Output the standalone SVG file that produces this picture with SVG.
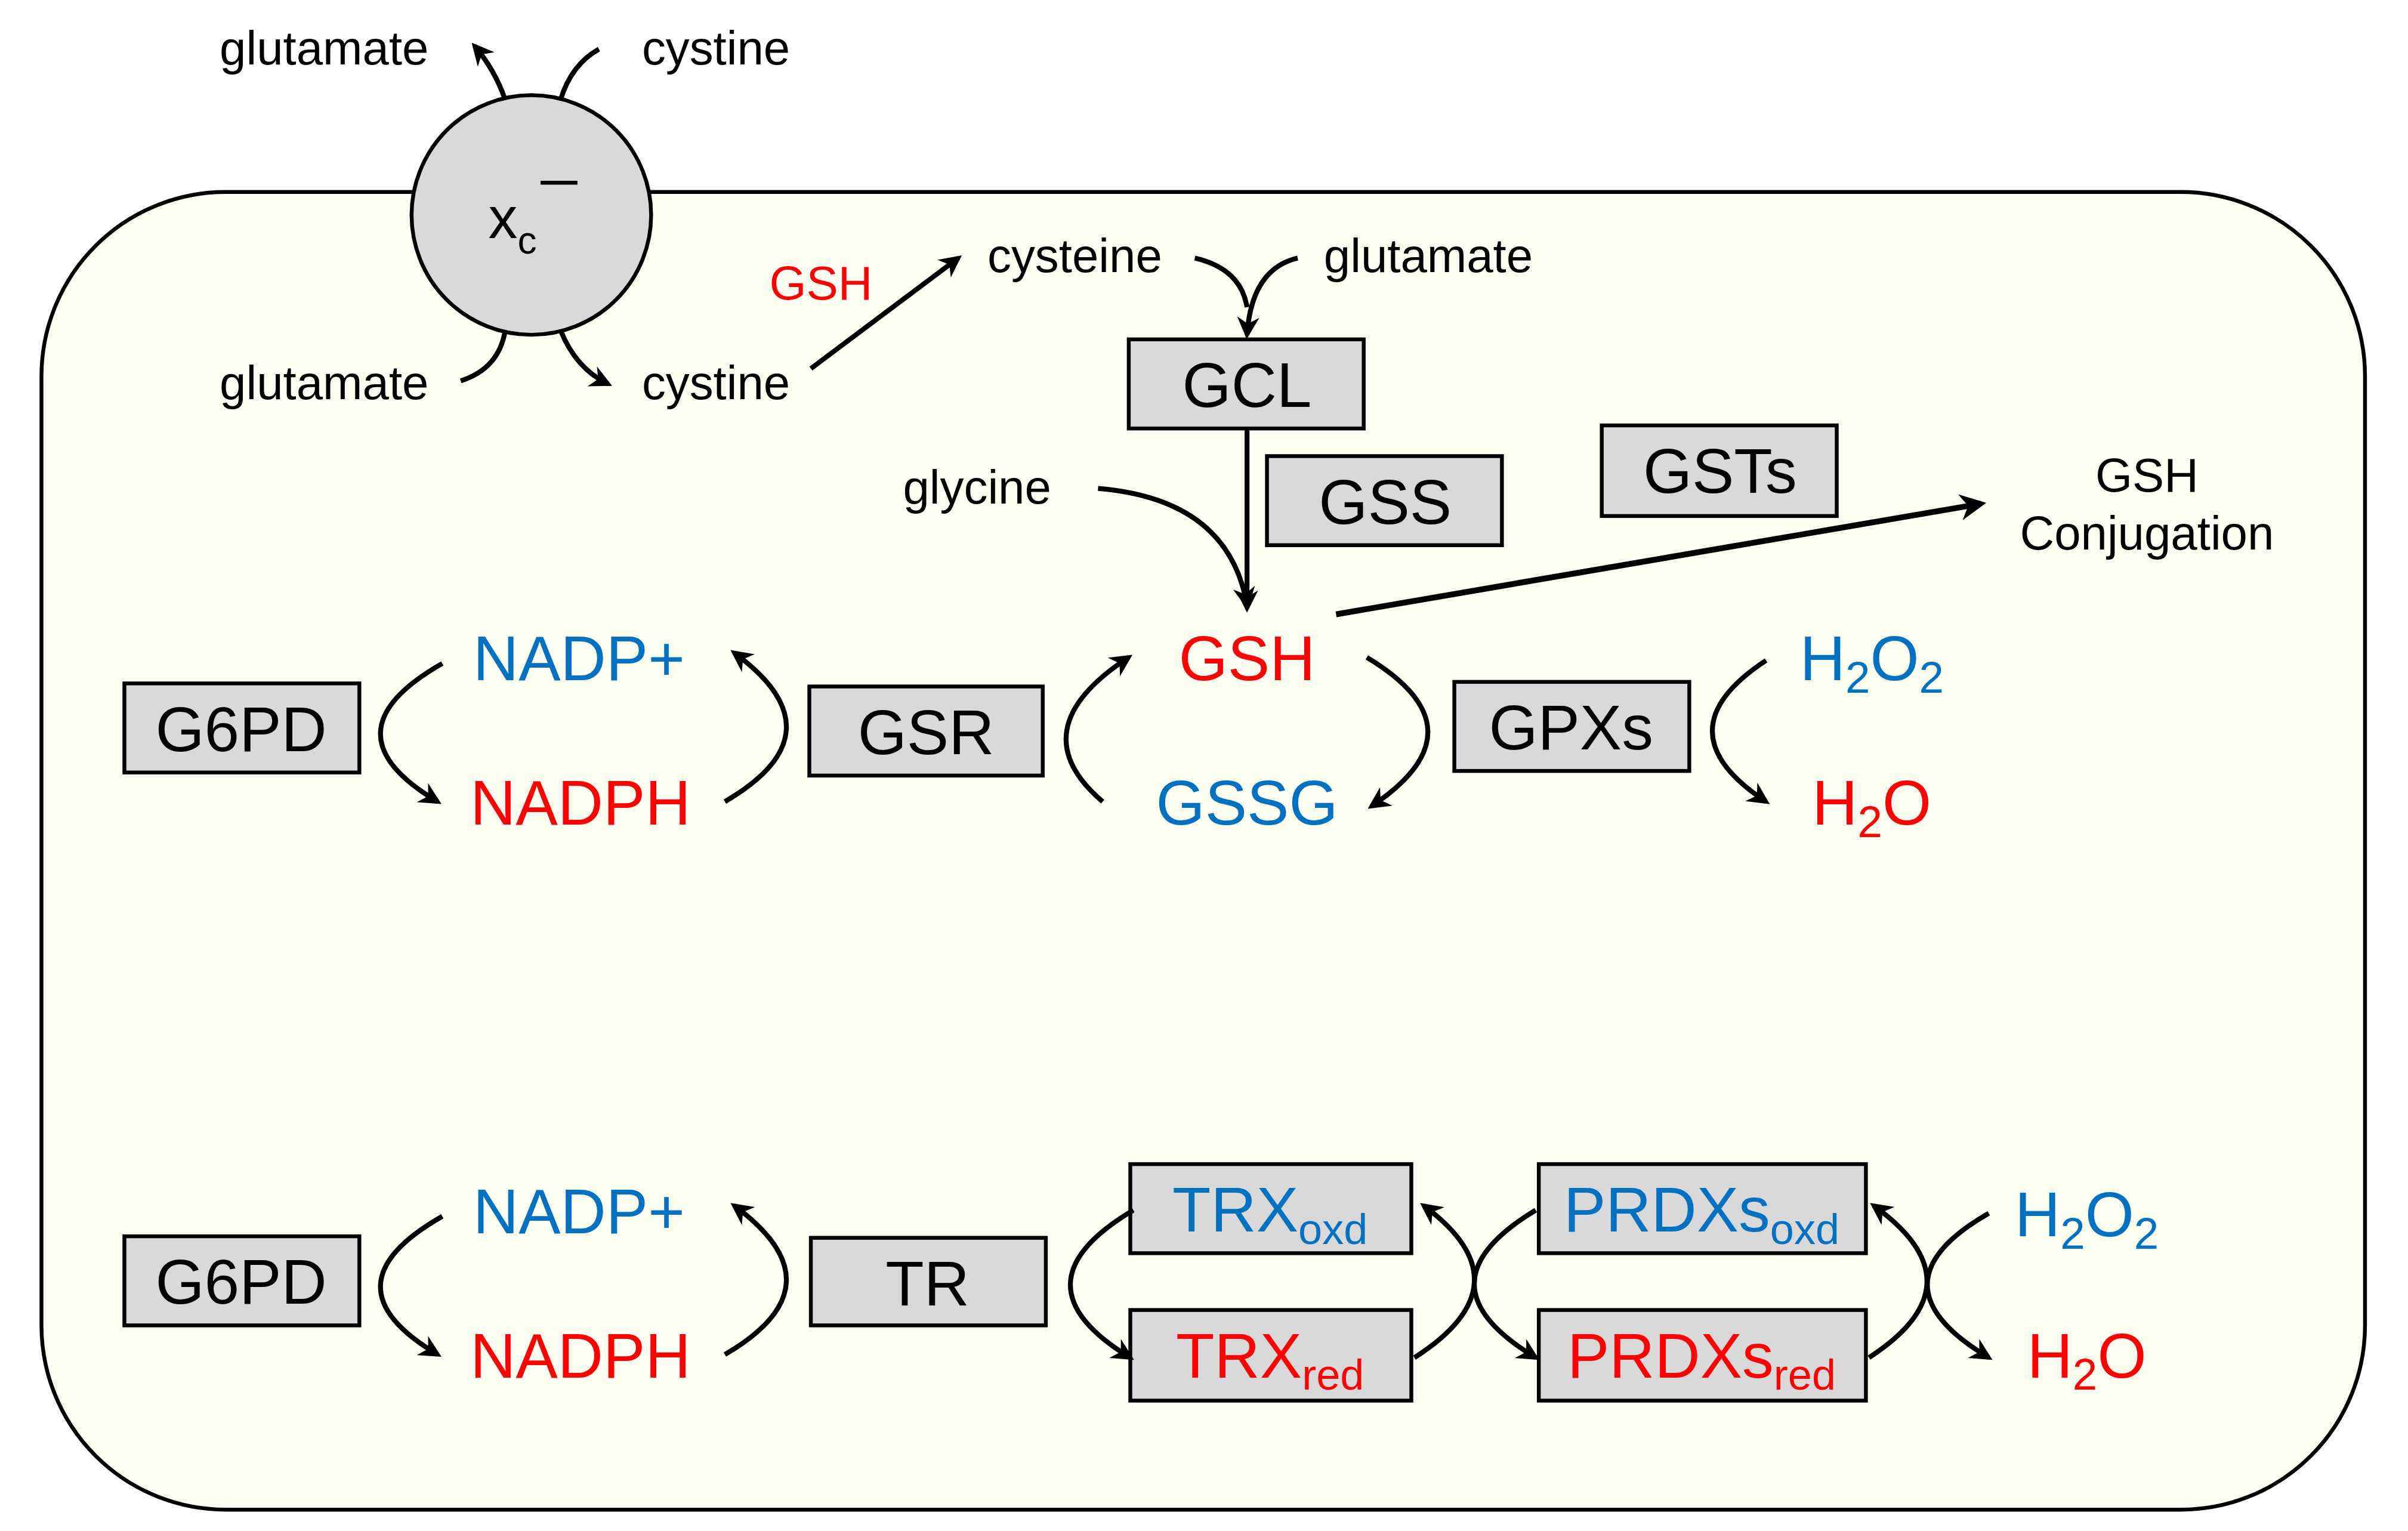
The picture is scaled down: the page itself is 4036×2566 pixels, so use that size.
<svg xmlns="http://www.w3.org/2000/svg" width="4036" height="2566" viewBox="0 0 4036 2566">
<style>
text{font-family:"Liberation Sans",Arial,sans-serif}
.s{font-size:31px;fill:#000}
.b{font-size:41px;fill:#000;text-anchor:middle}
.m{font-size:41px;text-anchor:middle}
.st{text-anchor:start}
.red{fill:#ff0000}.blue{fill:#0070c0}
.box{fill:#d9d9d9;stroke:#000;stroke-width:2.5}
.c{fill:none;stroke:#000;stroke-width:3.2;marker-end:url(#ah)}
.n{fill:none;stroke:#000;stroke-width:3.2}
</style>
<defs>
<marker id="ah" viewBox="0 0 10 10" refX="8" refY="5" markerWidth="4.5" markerHeight="4.5" orient="auto"><path d="M0,0L10,5L0,10L3,5Z" fill="#000"/></marker>
</defs>
<rect width="4036" height="2566" fill="#fff"/>
<g transform="scale(2.574)">
<g id="cell"><rect x="27" y="125" width="1513" height="858" rx="120" fill="#fdfdf1" stroke="#000" stroke-width="2.5"/></g>
<g id="xc"><circle cx="346" cy="140" r="78" fill="#d9d9d9" stroke="#000" stroke-width="2.5"/>
<text x="318" y="155" style="font-size:38px">x<tspan dy="10" style="font-size:25px">c</tspan></text>
<line x1="352" y1="119" x2="376" y2="119" stroke="#000" stroke-width="2.5"/></g>
<g id="labels">
<text class="s" x="143" y="42">glutamate</text>
<text class="s" x="418" y="42">cystine</text>
<text class="s" x="143" y="260">glutamate</text>
<text class="s" x="418" y="260">cystine</text>
<text class="s red" x="501" y="195">GSH</text>
<text class="s" x="643" y="177">cysteine</text>
<text class="s" x="862" y="177">glutamate</text>
<text class="s" x="588" y="328">glycine</text>
<text class="s" x="1398" y="320" text-anchor="middle">GSH</text>
<text class="s" x="1398" y="358" text-anchor="middle">Conjugation</text>
<text class="m red" x="812" y="443">GSH</text>
<text class="m blue" x="812" y="537">GSSG</text>
<text class="m blue" x="377" y="443">NADP+</text>
<text class="m red" x="378" y="537">NADPH</text>
<text class="m blue st" x="1172" y="443">H<tspan dy="8" style="font-size:29px">2</tspan><tspan dy="-8">O</tspan><tspan dy="8" style="font-size:29px">2</tspan></text>
<text class="m red st" x="1180" y="537">H<tspan dy="8" style="font-size:29px">2</tspan><tspan dy="-8">O</tspan></text>
<text class="m blue" x="377" y="803">NADP+</text>
<text class="m red" x="378" y="897">NADPH</text>
<text class="m blue st" x="1312" y="805">H<tspan dy="8" style="font-size:29px">2</tspan><tspan dy="-8">O</tspan><tspan dy="8" style="font-size:29px">2</tspan></text>
<text class="m red st" x="1320" y="897">H<tspan dy="8" style="font-size:29px">2</tspan><tspan dy="-8">O</tspan></text>
</g>
<g id="GCL"><rect class="box" x="735" y="221" width="153" height="58"/><text class="b" x="812" y="265">GCL</text></g>
<g id="GSS"><rect class="box" x="825" y="297" width="153" height="58"/><text class="b" x="902" y="341">GSS</text></g>
<g id="GSTs"><rect class="box" x="1043" y="277" width="153" height="59"/><text class="b" x="1120" y="321">GSTs</text></g>
<g id="G6PD1"><rect class="box" x="81" y="445" width="153" height="58"/><text class="b" x="157" y="489">G6PD</text></g>
<g id="GSR"><rect class="box" x="527" y="447" width="152" height="58"/><text class="b" x="603" y="491">GSR</text></g>
<g id="GPXs"><rect class="box" x="947" y="444" width="153" height="58"/><text class="b" x="1023" y="488">GPXs</text></g>
<g id="G6PD2"><rect class="box" x="81" y="805" width="153" height="58"/><text class="b" x="157" y="849">G6PD</text></g>
<g id="TR"><rect class="box" x="528" y="806" width="153" height="57"/><text class="b" x="604" y="850">TR</text></g>
<g id="TRXoxd"><rect class="box" x="736" y="758" width="183" height="58"/><text class="b blue" x="827" y="802">TRX<tspan dy="8" style="font-size:28px">oxd</tspan></text></g>
<g id="TRXred"><rect class="box" x="736" y="853" width="183" height="59"/><text class="b red" x="827" y="897">TRX<tspan dy="8" style="font-size:28px">red</tspan></text></g>
<g id="PRDXsoxd"><rect class="box" x="1002" y="758" width="213" height="58"/><text class="b blue" x="1108" y="802">PRDXs<tspan dy="8" style="font-size:28px">oxd</tspan></text></g>
<g id="PRDXsred"><rect class="box" x="1002" y="853" width="213" height="59"/><text class="b red" x="1108" y="897">PRDXs<tspan dy="8" style="font-size:28px">red</tspan></text></g>
<g id="connectors">
<path class="c" d="M329,65 Q322,45 309,30"/>
<path class="n" d="M365,65 Q372,42 390,32"/>
<path class="n" d="M300,248 Q325,240 329,215"/>
<path class="c" d="M365,215 Q375,240 396,250"/>
<path class="c" d="M528,240 L624,168"/>
<path class="n" d="M778,168 Q808,175 812,200"/>
<path class="c" d="M845,168 Q815,175 812,218"/>
<path class="c" d="M812,279 L812,396"/>
<path class="c" d="M715,318 Q800,325 812,394"/>
<path class="c" d="M870,400 L1290,328" style="stroke-width:3.8"/>
<path class="c" d="M288,432 Q209,477 285,522"/>
<path class="c" d="M472,522 Q549,477 478,425"/>
<path class="c" d="M718,522 Q663,475 735,428"/>
<path class="c" d="M890,428 Q968,475 893,525"/>
<path class="c" d="M1150,430 Q1080,476 1150,522"/>
<path class="c" d="M288,792 Q209,837 285,882"/>
<path class="c" d="M472,882 Q549,837 478,785"/>
<path class="c" d="M738,788 Q657,836 736,884"/>
<path class="c" d="M921,884 Q996,836 927,785"/>
<path class="c" d="M1000,788 Q920,836 1000,884"/>
<path class="c" d="M1217,884 Q1291,836 1220,785"/>
<path class="c" d="M1295,790 Q1215,836 1295,884"/>
</g>
</g>
</svg>
